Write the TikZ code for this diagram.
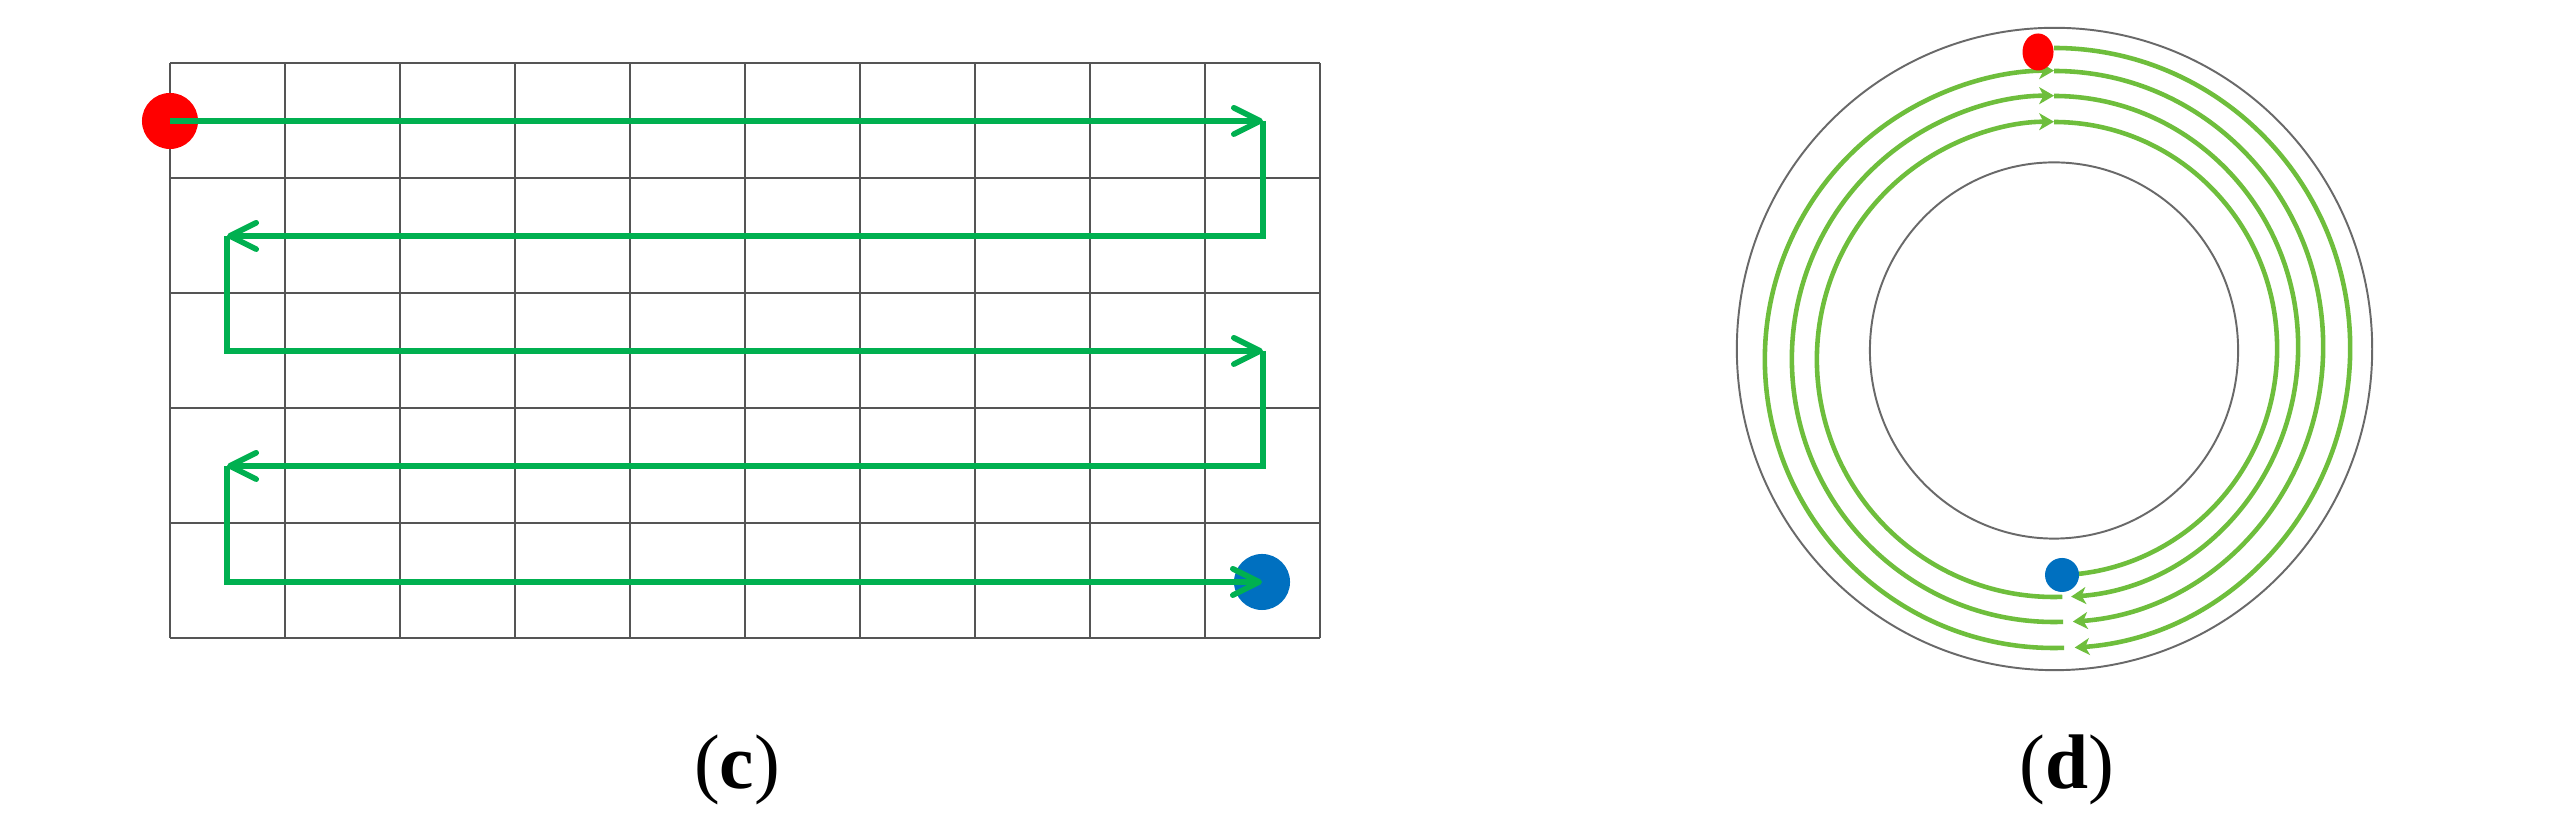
\documentclass[tikz,border=0pt]{standalone}
\usepackage{fontspec}
\setmainfont{Liberation Serif}
\usetikzlibrary{arrows.meta,shapes.geometric}
\definecolor{gridc}{RGB}{85,85,85}
\definecolor{pathc}{RGB}{0,176,80}
\definecolor{spiralc}{RGB}{110,190,60}
\definecolor{ringc}{RGB}{105,105,105}
\definecolor{startc}{RGB}{255,0,0}
\definecolor{endc}{RGB}{0,112,192}
\begin{document}
\begin{tikzpicture}[x=0.01cm,y=0.01cm,
  gridline/.style={draw=gridc,line width=0.6pt},
  snake/.style={draw=pathc,line width=1.6pt},
  snakearrow/.style={snake,-{Straight Barb[length=7.5pt,width=7.5pt,round]}},
  ring/.style={draw=ringc,line width=0.55pt},
  spiral/.style={draw=spiralc,line width=1.3pt},
  spiralarrow/.style={spiral,-{Stealth[length=4.2pt,width=4.8pt,inset=1.2pt]}},
  dot/.style={circle,inner sep=0pt,draw=none},
  eldot/.style={ellipse,inner sep=0pt,draw=none},
  caption/.style={font=\fontsize{22}{26}\selectfont,inner sep=0pt}]
\fill[white] (0,0) rectangle (2576,819);
\useasboundingbox (0,0) rectangle (2576,819);

% ---------- (c) grid ----------
\foreach \i in {0,...,10} \draw[gridline] ({170+115*\i},181) -- ({170+115*\i},756);
\foreach \j in {0,...,5} \draw[gridline] (170,{181+115*\j}) -- (1320,{181+115*\j});

\node[dot,fill=startc,minimum size=0.56cm] (s) at (170,698) {};
\node[dot,fill=endc,minimum size=0.56cm] (e) at (1262,237) {};

\coordinate (a1) at (1263,698);
\coordinate (a2) at (1263,583);
\coordinate (b1) at (227,583);
\coordinate (b2) at (227,468);
\coordinate (c1) at (1263,468);
\coordinate (c2) at (1263,353);
\coordinate (d1) at (227,353);
\coordinate (d2) at (227,237);

\draw[snakearrow] (s.center) -- (a1);
\draw[snakearrow] (a1) -- (a2) -- (b1);
\draw[snakearrow] (b1) -- (b2) -- (c1);
\draw[snakearrow] (c1) -- (c2) -- (d1);
\draw[snakearrow] (d1) -- (d2) -- (e.center);

% ---------- (d) rings ----------
\draw[ring] (2054.5,470) ellipse [x radius=3.175cm, y radius=3.21cm];
\draw[ring] (2054,468.5) ellipse [x radius=1.84cm, y radius=1.88cm];

\coordinate (r1) at (2054,771);
\coordinate (r2) at (2054,748);
\coordinate (r3) at (2054,723);
\coordinate (r4) at (2054,697);
\coordinate (l1) at ({2054+289*cos(272)},{459.5+288.5*sin(272)});
\coordinate (l2) at ({2054+262*cos(272)},{460+263*sin(272)});
\coordinate (l3) at ({2054+237*cos(272)},{459.5+237.5*sin(272)});

\draw[spiralarrow] (r1) arc[start angle=90,end angle=-86,x radius=2.96cm,y radius=3.00cm];
\draw[spiralarrow] (l1) arc[start angle=272,end angle=90,x radius=2.89cm,y radius=2.885cm];
\draw[spiralarrow] (r2) arc[start angle=90,end angle=-86,x radius=2.69cm,y radius=2.755cm];
\draw[spiralarrow] (l2) arc[start angle=272,end angle=90,x radius=2.62cm,y radius=2.63cm];
\draw[spiralarrow] (r3) arc[start angle=90,end angle=-86,x radius=2.44cm,y radius=2.505cm];
\draw[spiralarrow] (l3) arc[start angle=272,end angle=90,x radius=2.37cm,y radius=2.375cm];
\draw[spiral] (r4) arc[start angle=90,end angle=-90,x radius=2.23cm,y radius=2.265cm];

\node[eldot,fill=startc,minimum width=0.31cm,minimum height=0.37cm] (s2) at (2038,767) {};
\node[dot,fill=endc,minimum size=0.34cm] (e2) at (2062,244) {};

% ---------- captions ----------
\node[caption] (capc) at (737,49) {(\textbf{c})};
\node[caption] (capd) at (2067,49) {(\textbf{d})};
\end{tikzpicture}
\end{document}
